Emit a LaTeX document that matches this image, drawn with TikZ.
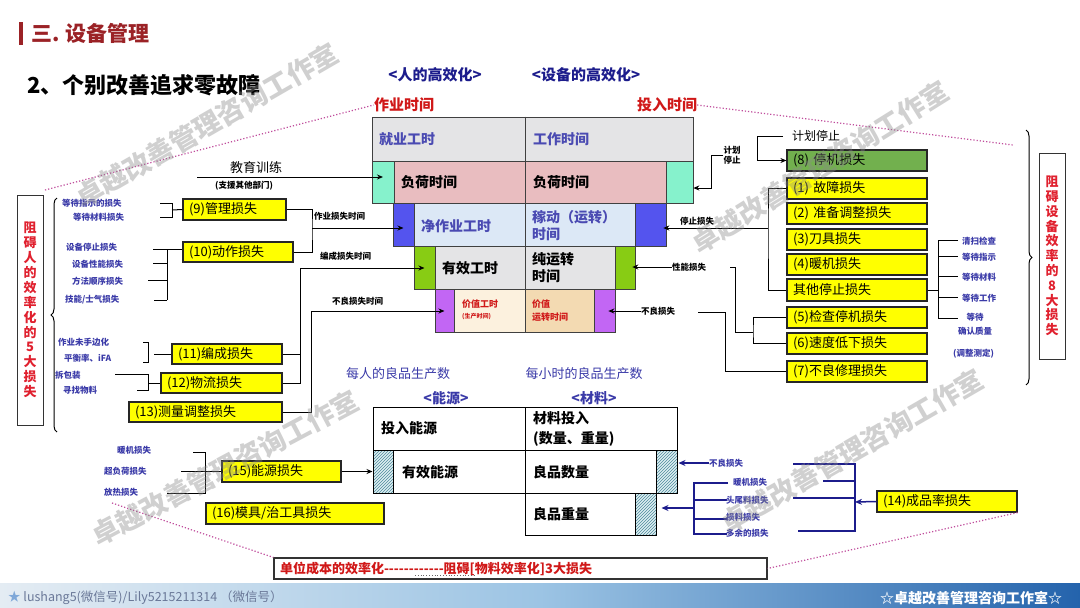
\documentclass[tikz,border=0pt]{standalone}
\usepackage{fontspec}
\setmainfont{Noto Sans CJK SC}
\usetikzlibrary{arrows.meta,patterns,decorations.pathreplacing,calc}
\definecolor{titlered}{HTML}{9B2226}
\definecolor{dblue}{HTML}{1C1C8C}
\definecolor{sblue}{HTML}{3A3AA8}
\definecolor{mblue}{HTML}{4A4AB2}
\definecolor{tred}{HTML}{D01818}
\definecolor{ygold}{HTML}{FFFF00}
\definecolor{gfill}{HTML}{72B04E}
\definecolor{aqua}{HTML}{86F2CC}
\definecolor{vblue}{HTML}{5454EE}
\definecolor{lgreen}{HTML}{88CC14}
\definecolor{violet}{HTML}{C266F4}
\definecolor{marble}{HTML}{E4E4E6}
\definecolor{pinkr}{HTML}{E9BDC0}
\definecolor{lblue}{HTML}{DCE8F6}
\definecolor{creamA}{HTML}{FCF1DE}
\definecolor{tanB}{HTML}{F3DAB2}
\definecolor{hatchc}{HTML}{4E8A9C}
\definecolor{hatchbg}{HTML}{DDEFF2}
\definecolor{magdot}{HTML}{C04C9C}
\definecolor{wmc}{HTML}{8A8A8A}
\definecolor{footL}{HTML}{E4ECF3}
\definecolor{footM}{HTML}{9CC4E4}
\definecolor{footR}{HTML}{2463AC}
\definecolor{foottxt}{HTML}{6A7898}
\definecolor{starc}{HTML}{7FA8D8}
\definecolor{rboxc}{HTML}{E0202E}
\newcommand\mkbox[7]{%
  \pgfmathsetmacro\bxw{#5-#3}%
  \pgfmathsetmacro\bxh{#6-#4}%
  \pgfmathsetmacro\bxt{#5-#3-12}%
  \pgfmathsetmacro\bxcx{(#3+#5)/2}%
  \pgfmathsetmacro\bxcy{(#4+#6)/2}%
  \node[#1, minimum width=\bxw pt, minimum height=\bxh pt, text width=\bxt pt] (#2) at (\bxcx,\bxcy) {#7};}
\newcommand\dsh{-{}}
\begin{document}
\begin{tikzpicture}[x=1pt,y=-1pt,
  kln/.style={line width=1pt,draw=black},
  karr/.style={line width=1pt,draw=black,-{Stealth[length=6pt,width=5pt]}},
  kbl/.style={line width=1.5pt,draw=dblue},
  kbarr/.style={line width=1.5pt,draw=dblue,-{Stealth[length=7pt,width=6pt]}},
  ybox/.style={draw=black!85,line width=1.2pt,fill=ygold,inner xsep=6pt,inner ysep=0pt,align=left,font=\fontsize{13}{15}\selectfont},
  gbox/.style={ybox,fill=gfill},
  kreg/.style={draw=black!75,line width=0.6pt,inner sep=0pt},
  ktbl/.style={draw=black,line width=1pt,fill=white,inner sep=0pt},
  khat/.style={draw=black,line width=1pt,inner sep=0pt,preaction={fill=hatchbg},pattern=north east lines,pattern color=hatchc},
  kst/.style={text=sblue,font=\bfseries\fontsize{8.5}{10}\selectfont,inner sep=0pt,anchor=west},
  klb/.style={font=\bfseries\fontsize{8.5}{10}\selectfont,inner sep=0pt},
  krt/.style={font=\bfseries\fontsize{14}{17}\selectfont,inner sep=0pt,anchor=west,align=left},
  ktx/.style={font=\bfseries\fontsize{14}{20}\selectfont,inner sep=0pt,anchor=west,align=left},
  kwm/.style={text=wmc,opacity=0.4,font=\bfseries\fontsize{27}{27}\selectfont,inner sep=0pt},
  kdot/.style={draw=magdot,dotted,line width=1.2pt},
  kvbox/.style={draw=black!80,line width=1pt,minimum width=26pt,inner sep=0pt,text=rboxc,align=center}
]
\useasboundingbox (0,0) rectangle (1080,608);
\fill[white] (0,0) rectangle (1080,608);

% header
\fill[titlered] (19,22) rectangle (23,45);
\node[anchor=west,inner sep=0pt,text=titlered,font=\bfseries\fontsize{21}{21}\selectfont] (ttl) at (31,33) {三. 设备管理};
\node[anchor=west,inner sep=0pt,font=\bfseries\fontsize{22}{22}\selectfont] (sub) at (27,85) {2、个别改善追求零故障};
\node[inner sep=0pt,text=dblue,font=\bfseries\fontsize{15}{15}\selectfont] (hum) at (435,75) {<人的高效化>};
\node[inner sep=0pt,text=dblue,font=\bfseries\fontsize{15}{15}\selectfont] (equ) at (586,75) {<设备的高效化>};
\node[inner sep=0pt,text=tred,font=\bfseries\fontsize{15}{15}\selectfont] (zy) at (404,105) {作业时间};
\node[inner sep=0pt,text=tred,font=\bfseries\fontsize{15}{15}\selectfont] (tr) at (667,105) {投入时间};

% funnel
\mkbox{kreg,fill=marble}{r1L}{372}{117}{525}{161}{}
\mkbox{kreg,fill=marble}{r1R}{525}{117}{693}{161}{}
\mkbox{kreg,fill=aqua}{l2}{372}{161}{394}{203}{}
\mkbox{kreg,fill=pinkr}{r2m}{394}{161}{666}{203}{}
\mkbox{kreg,fill=aqua}{r2}{666}{161}{693}{203}{}
\mkbox{kreg,fill=vblue}{l3}{393}{203}{414}{246}{}
\mkbox{kreg,fill=lblue}{r3m}{414}{203}{635}{246}{}
\mkbox{kreg,fill=vblue}{r3}{635}{203}{666}{246}{}
\mkbox{kreg,fill=lgreen}{l4}{414}{246}{435}{289}{}
\mkbox{kreg,fill=marble}{r4m}{435}{246}{615}{289}{}
\mkbox{kreg,fill=lgreen}{r4}{615}{246}{635}{289}{}
\mkbox{kreg,fill=violet}{l5}{435}{289}{454}{332}{}
\mkbox{kreg,fill=creamA}{r5a}{454}{289}{525}{332}{}
\mkbox{kreg,fill=tanB}{r5b}{525}{289}{594}{332}{}
\mkbox{kreg,fill=violet}{r5}{594}{289}{615}{332}{}
\draw[kreg] (r1L.north east) -- (r5a.south east);

\node[krt,text=mblue] (t11) at (379,139) {就业工时};
\node[krt,text=mblue] (t12) at (533,139) {工作时间};
\node[krt] (t21) at (401,182) {负荷时间};
\node[krt] (t22) at (533,182) {负荷时间};
\node[krt,text=mblue] (t31) at (421,226) {净作业工时};
\node[krt,text=mblue] (t32) at (532,226) {稼动（运转）\\时间};
\node[krt] (t41) at (442,268) {有效工时};
\node[krt] (t42) at (532,268) {纯运转\\时间};
\node[inner sep=0pt,anchor=west,align=left,text=tred,font=\bfseries\fontsize{9}{11}\selectfont] (t51) at (462,310) {价值工时\\{\fontsize{6}{7}\selectfont (生产时间)}};
\node[inner sep=0pt,anchor=west,align=left,text=tred,font=\bfseries\fontsize{9}{13}\selectfont] (t52) at (532,311) {价值\\运转时间};

% left boxes
\mkbox{ybox}{b9}{183}{199}{286}{220}{(9)管理损失}
\mkbox{ybox}{b10}{183}{242}{293}{262}{(10)动作损失}
\mkbox{ybox}{b11}{172}{344}{282}{364}{(11)编成损失}
\mkbox{ybox}{b12}{161}{373}{282}{393}{(12)物流损失}
\mkbox{ybox}{b13}{129}{402}{282}{422}{(13)测量调整损失}
\mkbox{ybox}{b15}{222}{461}{341}{482}{(15)能源损失}
\mkbox{ybox}{b16}{206}{503}{384}{524}{(16)模具/治工具损失}

\node[inner sep=0pt,font=\fontsize{13}{13}\selectfont] (edu) at (256,168) {教育训练};
\node[klb] (edus) at (244,186) {(支援其他部门)};
\coordinate (e0) at (197,177);
\draw[karr] (e0) -- (e0 -| l2.center);

\coordinate (j1) at (312,228);
\draw[kln] (b9.east) -| (j1) |- (b10.east);
\draw[karr] (j1) -- (j1 -| l3.center);
\node[klb,anchor=west] (j1t) at (314,216) {作业损失时间};
\coordinate (j2) at (300,268);
\draw[kln] (b11.east) -| (j2);
\draw[kln] (b12.east) -| (j2);
\draw[karr] (j2) -- (j2 -| l4.center);
\node[klb,anchor=west] (j2t) at (320,256) {编成损失时间};
\coordinate (j3) at (311,311);
\draw[kln] (b13.east) -| (j3);
\draw[karr] (j3) -- (j3 -| l5.center);
\node[klb,anchor=west] (j3t) at (332,301) {不良损失时间};

% left small texts
\node[kst] (lt1) at (62,203) {等待指示的损失};
\node[kst] (lt2) at (73,217) {等待材料损失};
\node[kst] (lt3) at (66,247) {设备停止损失};
\node[kst] (lt4) at (72,264) {设备性能损失};
\node[kst] (lt5) at (72,281) {方法顺序损失};
\node[kst] (lt6) at (65,300) {技能/士气损失};
\node[kst] (lt7) at (58,342) {作业未手边化};
\node[kst] (lt8) at (64,358) {平衡率、iFA};
\node[kst] (lt9) at (55,375) {拆包装};
\node[kst] (lt10) at (63,390) {寻找物料};
\node[kst] (lt11) at (117,450) {暖机损失};
\node[kst] (lt12) at (104,471) {超负荷损失};
\node[kst] (lt13) at (104,492) {放热损失};

% left brackets
\coordinate (k9) at (172,210);
\draw[kln] (b9.west) -- (k9);
\draw[kln] (k9) ++(-12,-7) -- ++(12,0) -- ++(0,14) -- ++(-12,0);
\coordinate (k10) at (167,249);
\draw[kln] (k10) ++(-14,0) -- (k10 -| b10.west);
\draw[kln] (k10) -- ++(0,51);
\draw[kln] (k10) ++(0,14) -- ++(-14,0);
\draw[kln] (k10) ++(0,31) -- ++(-19,0);
\draw[kln] (k10) ++(0,51) -- ++(-13,0);
\coordinate (k11) at (148,352);
\draw[kln] (k11) ++(-5,-10) -- ++(5,0) -- ++(0,20) -- ++(-5,0);
\draw[kln] (b11.west) -- ++(-17,0);
\coordinate (k12) at (148,383);
\draw[kln] (k12) ++(-33,-9) -- ++(33,0) -- ++(0,16) -- ++(-11,0);
\draw[kln] (k12) -- (k12 -| b12.west);
\coordinate (k15) at (205,472);
\draw[kln] (k15) ++(-12,-20) -- ++(12,0) -- ++(0,41) -- ++(-38,0);
\draw[kln] (b15.west) -- ++(-40,0);

% left vertical box and brace
\node[kvbox,minimum height=230pt,font=\bfseries\fontsize{13}{14.9}\selectfont] (lbx) at (30,310) {阻\\碍\\人\\的\\效\\率\\化\\的\\5\\大\\损\\失};
\coordinate (lb1) at (57,432); \coordinate (lb2) at (57,198);
\draw[kln,decorate,decoration={brace,amplitude=6pt}] (lb1) -- (lb2);

% right boxes
\mkbox{gbox}{b8}{787}{150}{927}{171}{(8) 停机损失}
\mkbox{ybox}{b1}{787}{178}{927}{199}{(1) 故障损失}
\mkbox{ybox}{b2}{787}{203}{927}{224}{(2) 准备调整损失}
\mkbox{ybox}{b3}{787}{229}{927}{250}{(3)刀具损失}
\mkbox{ybox}{b4}{787}{254}{927}{275}{(4)暖机损失}
\mkbox{ybox}{bo}{787}{279}{927}{301}{其他停止损失}
\mkbox{ybox}{b5}{787}{307}{927}{328}{(5)检查停机损失}
\mkbox{ybox}{b6}{787}{333}{927}{354}{(6)速度低下损失}
\mkbox{ybox}{b7}{787}{361}{927}{382}{(7)不良修理损失}

\node[inner sep=0pt,anchor=west,font=\fontsize{12}{12}\selectfont] (jh) at (792,136) {计划停止};
\coordinate (k8) at (757,136);
\draw[karr] (jh.west) ++(-9,0) -- (k8) |- (b8.west);
\node[klb,align=center] (jh2) at (732,155) {计划\\停止};
\draw[karr] (jh2.west) -- ++(-12,0) |- ($(r2.east)+(0,6)$);

\coordinate (k1) at (768,228);
\draw[kln] (b1.west) -| (k1) |- (bo.west);
\draw[karr] (k1) -- ($(k1 -| r3.east)+(-3,0)$);
\node[klb,anchor=west] (slt) at (680,221) {停止损失};

\coordinate (k56) at (753,332);
\draw[kln] (b5.west) -| (k56) |- (b6.west);
\coordinate (k56b) at (735,267);
\draw[kln] (k56) -| (k56b) -- ++(-5,0);
\node[klb,anchor=west] (plt) at (672,267) {性能损失};
\draw[karr] (plt.west) -- ($(plt.west -| r4.east)+(-3,0)$);

\coordinate (k7) at (725,312);
\draw[kln] (b7.west) -| (k7) -- ++(-27,0);
\node[klb,anchor=west] (blt) at (641,311) {不良损失};
\draw[karr] (blt.west) -- ($(blt.west -| r5.east)+(-7,0)$);

\coordinate (k0) at (938,290);
\draw[kln] (bo.east) -- (k0);
\draw[kln] (k0) ++(20,-50) -- ++(-20,0) -- ++(0,78) -- ++(20,0);
\draw[kln] (k0) ++(0,-34) -- ++(20,0);
\draw[kln] (k0) ++(0,-14) -- ++(20,0);
\draw[kln] (k0) ++(0,7) -- ++(20,0);
\node[kst] (o1) at (962,241) {清扫检查};
\node[kst] (o2) at (962,257) {等待指示};
\node[kst] (o3) at (962,277) {等待材料};
\node[kst] (o4) at (962,298) {等待工作};
\node[kst,align=center,anchor=north,font=\bfseries\fontsize{8.5}{14}\selectfont] (o5) at (975,313) {等待\\确认质量};
\node[kst] (o6) at (953,354) {(调整测定)};

\node[kvbox,minimum height=206pt,font=\bfseries\fontsize{13}{14.8}\selectfont] (rbx) at (1052,256) {阻\\碍\\设\\备\\效\\率\\的\\8\\大\\损\\失};
\coordinate (rb1) at (1026,130); \coordinate (rb2) at (1026,385);
\draw[kln,decorate,decoration={brace,amplitude=6pt}] (rb1) -- (rb2);

% bottom table
\node[inner sep=0pt,text=sblue,font=\fontsize{13}{13}\selectfont] (bt1) at (398,374) {每人的良品生产数};
\node[inner sep=0pt,text=sblue,font=\fontsize{13}{13}\selectfont] (bt2) at (584,374) {每小时的良品生产数};
\node[inner sep=0pt,text=sblue,font=\bfseries\fontsize{14}{14}\selectfont] (bt3) at (446,398) {<能源>};
\node[inner sep=0pt,text=sblue,font=\bfseries\fontsize{14}{14}\selectfont] (bt4) at (594,398) {<材料>};
\mkbox{ktbl}{ta}{373}{407}{525}{450}{}
\mkbox{ktbl}{tb}{525}{407}{677}{450}{}
\mkbox{khat}{h1}{373}{450}{393}{493}{}
\mkbox{ktbl}{tc}{393}{450}{525}{493}{}
\mkbox{ktbl}{td}{525}{450}{656}{493}{}
\mkbox{khat}{h2}{656}{450}{677}{493}{}
\mkbox{ktbl}{te}{525}{493}{635}{535}{}
\mkbox{khat}{h3}{635}{493}{656}{535}{}
\node[ktx] (ta1) at (381,428) {投入能源};
\node[ktx] (tb1) at (533,429) {材料投入\\(数量、重量)};
\node[ktx] (tc1) at (402,472) {有效能源};
\node[ktx] (td1) at (533,472) {良品数量};
\node[ktx] (te1) at (533,514) {良品重量};
\draw[karr] (b15.east) -- (b15.east -| h1.west);

% bottom right
\mkbox{ybox}{b14}{877}{491}{1017}{512}{(14)成品率损失}
\coordinate (kl) at (694,508);
\draw[kbl] (kl) ++(34,-25) -- ++(-34,0) -- ++(0,51) -- ++(33,0);
\draw[kbl] (kl) ++(0,-8) -- ++(33,0);
\draw[kbl] (kl) ++(0,11) -- ++(33,0);
\draw[kbarr] (kl) -- ($(kl -| h3.east)+(5,0)$);
\coordinate (kr) at (855,502);
\draw[kbl] (kr) ++(-62,-38) -- ++(62,0) -- ++(0,67) -- ++(-57,0);
\draw[kbl] (kr) ++(0,-21) -- ++(-32,0);
\draw[kbl] (kr) ++(0,-4) -- ++(-62,0);
\draw[kbarr] (b14.west) -- (kr);
\node[kst] (br1) at (709,463) {不良损失};
\node[kst] (br2) at (733,482) {暖机损失};
\node[kst] (br3) at (726,500) {头尾料损失};
\node[kst] (br4) at (726,517) {损料损失};
\node[kst] (br5) at (726,533) {多余的损失};
\draw[kbarr] (br1.west) -- ($(br1.west -| h2.east)+(1,0)$);

% bottom banner box
\mkbox{draw=black!80,line width=1.2pt,fill=white,inner xsep=6pt,inner ysep=0pt,align=left,text=tred,font=\bfseries\fontsize{13}{13}\selectfont}{bb}{274}{558}{767}{579}{单位成本的效率化\dsh\dsh\dsh\dsh\dsh\dsh\dsh\dsh\dsh\dsh\dsh\dsh 阻碍[物料效率化]3大损失}
\coordinate (du1) at (415,575); \coordinate (du2) at (476,575);
\draw[draw=black!60,dotted,line width=0.8pt] (du1) -- (du2);

% dotted guide lines
\coordinate (d1a) at (45,190); \draw[kdot] (d1a) -- (zy.west);
\coordinate (d2b) at (1013,145); \draw[kdot] (tr.east) -- (d2b);
\coordinate (d3a) at (112,503); \draw[kdot] (d3a) -- (bb.north west);
\draw[kdot] (b14.south east) -- (bb.east);

% footer
\shade[left color=footL,right color=footR,middle color=footM] (0,583) rectangle (1080,608);
\node[anchor=west,inner sep=0pt,text=foottxt,font=\fontsize{12.5}{12.5}\selectfont] (ft1) at (8,598) {\textcolor{starc}{★} lushang5(微信号)/Lily5215211314 （微信号）};
\node[inner sep=0pt,text=white,font=\bfseries\fontsize{14}{14}\selectfont] (ft2) at (971,598) {☆卓越改善管理咨询工作室☆};

% watermarks
\node[kwm,rotate=30] (wm1) at (207,125) {卓越改善管理咨询工作室};
\node[kwm,rotate=32] (wm2) at (820,167) {卓越改善管理咨询工作室};
\node[kwm,rotate=30] (wm3) at (852,451) {卓越改善管理咨询工作室};
\node[kwm,rotate=28] (wm4) at (225,468) {卓越改善管理咨询工作室};
\end{tikzpicture}
\end{document}
